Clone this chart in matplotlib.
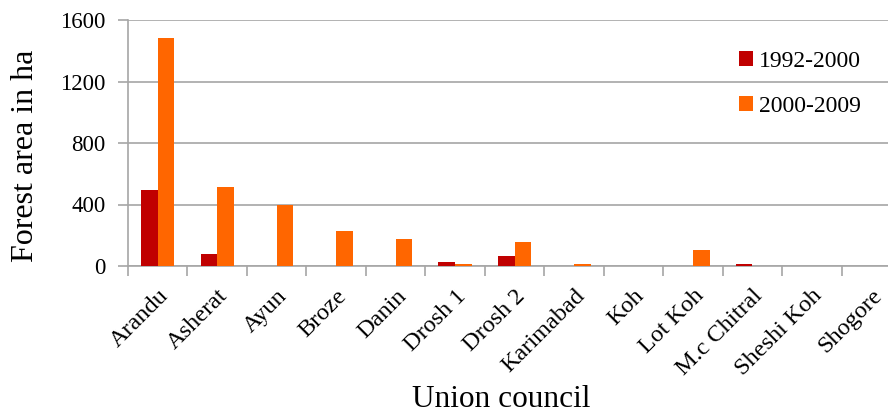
import numpy as np
import matplotlib
matplotlib.use("Agg")
import matplotlib.pyplot as plt
from matplotlib.patches import Patch

plt.rcParams['font.family'] = ['Liberation Serif', 'DejaVu Serif']

councils = ["Arandu", "Asherat", "Ayun", "Broze", "Danin", "Drosh 1", "Drosh 2",
            "Karimabad", "Koh", "Lot Koh", "M.c Chitral", "Sheshi Koh", "Shogore"]
loss_1992_2000 = [495, 78, 0, 0, 0, 24, 63, 0, 0, 0, 10, 0, 0]
loss_2000_2009 = [1485, 516, 397, 226, 178, 15, 155, 10, 0, 102, 0, 0, 0]
series_labels = ["1992-2000", "2000-2009"]
yticks = [0, 400, 800, 1200, 1600]

c_red = "#C00000"
c_orange = "#FF6600"
grid_c = "#A6A6A6"

W, H = 888, 416
fig = plt.figure(figsize=(W / 100, H / 100), dpi=100)
ax = fig.add_axes([128 / W, (H - 266) / H, (901 - 128) / W, 246 / H])

x = np.arange(len(councils))
w = 0.28
ax.bar(x - w / 2, loss_1992_2000, width=w, color=c_red, zorder=3)
ax.bar(x + w / 2, loss_2000_2009, width=w, color=c_orange, zorder=3)

ax.set_xlim(-0.5, len(councils) - 0.5)
ax.set_ylim(0, 1600)
ax.set_yticks(yticks)
ax.set_yticklabels([str(v) for v in yticks], fontsize=16.5)
ax.yaxis.grid(True, color=grid_c, linewidth=1.2, zorder=0)
ax.set_axisbelow(True)

# category boundaries carry tick marks, centres carry the labels
ax.set_xticks(np.arange(len(councils) + 1) - 0.5)
ax.set_xticklabels([])
ax.set_xticks(x, minor=True)
ax.set_xticklabels(councils, minor=True, rotation=45, ha='right',
                   rotation_mode='anchor', fontsize=17.5)
ax.tick_params(axis='x', which='major', length=7, color=grid_c, width=1.2)
ax.tick_params(axis='x', which='minor', length=0, pad=14)
ax.tick_params(axis='y', length=7, color=grid_c, width=1.2, pad=9)

for s in ("top", "right"):
    ax.spines[s].set_visible(False)
for s in ("left", "bottom"):
    ax.spines[s].set_color(grid_c)
    ax.spines[s].set_linewidth(1.2)

ax.set_ylabel("Forest area in ha", fontsize=23)
ax.yaxis.set_label_coords(-0.114, 0.447)
ax.set_xlabel("Union council", fontsize=22.5)
ax.xaxis.set_label_coords(0.4825, -0.485)

handles = [Patch(facecolor=c_red), Patch(facecolor=c_orange)]
fig.legend(handles, series_labels, loc='upper left',
           bbox_to_anchor=(718 / W, 1 - 30 / H), frameon=False, fontsize=17,
           handlelength=0.6, handleheight=0.6, handletextpad=0.25,
           labelspacing=1.0)

fig.savefig("out.png", dpi=100)
